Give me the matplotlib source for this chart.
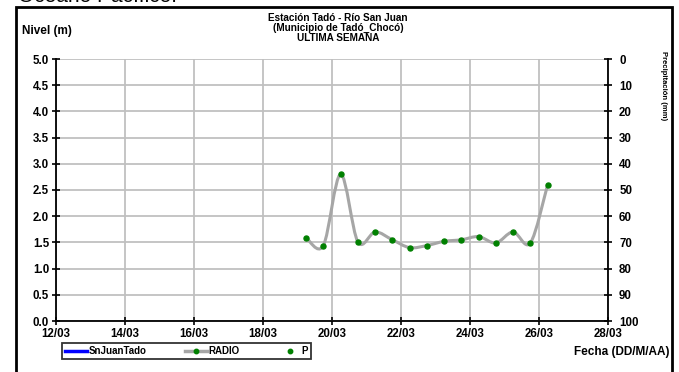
import matplotlib
matplotlib.use("Agg")
import matplotlib.pyplot as plt
from matplotlib.path import Path
from matplotlib.patches import PathPatch, Rectangle
from matplotlib.lines import Line2D

plt.rcParams['font.family'] = ['Liberation Sans', 'DejaVu Sans']
plt.rcParams['font.weight'] = 'bold'

# ---- data ----
dias = [19.25, 19.75, 20.25, 20.75, 21.25, 21.75, 22.25, 22.75,
        23.25, 23.75, 24.25, 24.75, 25.25, 25.75, 26.25]
nivel_radio = [1.59, 1.44, 2.80, 1.51, 1.70, 1.55, 1.40, 1.44,
               1.52, 1.55, 1.61, 1.49, 1.70, 1.49, 2.60]
x_ticks = [12, 14, 16, 18, 20, 22, 24, 26, 28]
x_labels = ['12/03', '14/03', '16/03', '18/03', '20/03', '22/03', '24/03', '26/03', '28/03']
y_ticks = [0.0, 0.5, 1.0, 1.5, 2.0, 2.5, 3.0, 3.5, 4.0, 4.5, 5.0]
p_ticks = [0, 10, 20, 30, 40, 50, 60, 70, 80, 90, 100]
titulo = "Estación Tadó - Río San Juan\n(Municipio de Tadó_Chocó)\nULTIMA SEMANA"

W, H = 679, 372
fig = plt.figure(figsize=(W / 100, H / 100), dpi=100)

L, R, T, B = 56, 608, 59, 321
ax = fig.add_axes([L / W, 1 - B / H, (R - L) / W, (B - T) / H])
ax.set_xlim(12, 28)
ax.set_ylim(0, 5)
ax.set_xticks(x_ticks)
ax.set_xticklabels(x_labels)
ax.set_yticks(y_ticks)
ax.set_yticklabels([f"{v:.1f}" for v in y_ticks])
ax.grid(True, color='#c0c0c0', lw=1.3)
ax.set_axisbelow(True)
for s in ['top', 'right']:
    ax.spines[s].set_visible(False)
for s in ['left', 'bottom']:
    ax.spines[s].set_linewidth(1.3)
ax.tick_params(direction='inout', length=6, width=1.2, labelsize=8.3, pad=2)

# Excel-like smoothed line (Bezier through points)
n = len(dias)
pts = list(zip(dias, nivel_radio))
verts = [pts[0]]
codes = [Path.MOVETO]
for i in range(n - 1):
    p0 = pts[i - 1] if i > 0 else pts[i]
    p1 = pts[i]
    p2 = pts[i + 1]
    p3 = pts[i + 2] if i + 2 < n else pts[i + 1]
    c1 = (p1[0] + (p2[0] - p0[0]) / 6, p1[1] + (p2[1] - p0[1]) / 6)
    c2 = (p2[0] - (p3[0] - p1[0]) / 6, p2[1] - (p3[1] - p1[1]) / 6)
    verts += [c1, c2, p2]
    codes += [Path.CURVE4] * 3
ax.add_patch(PathPatch(Path(verts, codes), facecolor='none', edgecolor='#a6a6a6', lw=2.2, zorder=3))
ax.plot(dias, nivel_radio, ls='none', marker='o', ms=3.6, color='#008000', zorder=4)

ax2 = ax.twinx()
ax2.set_ylim(100, 0)
ax2.set_yticks(p_ticks)
ax2.set_yticklabels([str(v) for v in p_ticks])
for s in ['top', 'left', 'bottom']:
    ax2.spines[s].set_visible(False)
ax2.spines['right'].set_linewidth(1.3)
ax2.tick_params(direction='inout', length=6, width=1.2, labelsize=8.3, pad=5)

# frame
fig.patches.append(Rectangle((16 / W, -0.05), (672 - 16) / W, 1.05 - 7 / H,
                             transform=fig.transFigure, fill=False, lw=2, ec='black'))

fig.text(18 / W, 1 - 2 / H, "Océano Pacífico:", fontsize=15, fontweight='normal',
         ha='left', va='baseline')
fig.text(338 / W, 1 - 13 / H, titulo, fontsize=7.2, ha='center', va='top', linespacing=1.0)
fig.text(22 / W, 1 - 31 / H, "Nivel (m)", fontsize=8.5, ha='left', va='center')
fig.text(663 / W, 1 - 86 / H, "Precipitación (mm)", fontsize=5.5, rotation=270,
         ha='center', va='center')
fig.text(669 / W, 1 - 352 / H, "Fecha (DD/M/AA)", fontsize=8.5, ha='right', va='center')

handles = [Line2D([], [], color='#0000ff', lw=2.5),
           Line2D([], [], color='#a6a6a6', lw=2.5, marker='o', ms=3.2, mfc='#008000', mec='#008000'),
           Line2D([], [], color='#008000', ls='none', marker='o', ms=3.2)]
leg = fig.legend(handles, ['SnJuanTado', 'RADIO', 'P'], ncol=3, fontsize=7,
                 loc='center left', bbox_to_anchor=(62 / W, 1 - 351 / H),
                 frameon=True, fancybox=False, handlelength=2.3, handletextpad=0.1,
                 columnspacing=4.0, borderpad=0.3, borderaxespad=0)
leg.get_frame().set_edgecolor('black')
leg.get_frame().set_linewidth(1.3)

fig.savefig("out.png", dpi=100)
